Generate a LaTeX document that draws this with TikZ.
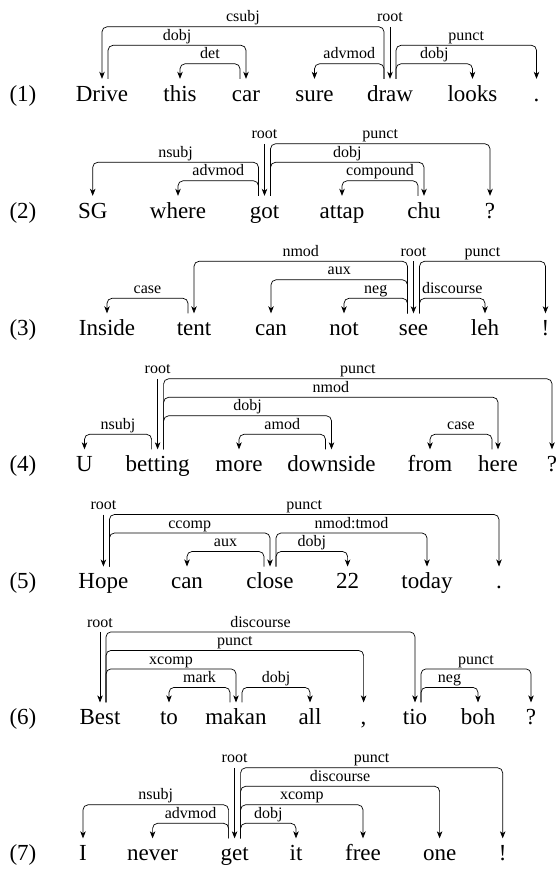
\documentclass[tikz,border=0pt]{standalone}
\usepackage{fontspec}
\setmainfont{Liberation Serif}
\usepackage{tikz}
\usetikzlibrary{arrows.meta}

\begin{document}
\begin{tikzpicture}
  [
    x=1pt, y=-1pt,
    Word/.style={font=\fontsize{23}{27}\selectfont, anchor=base, inner xsep=0pt, inner ysep=6pt, text height=16pt, text depth=5pt},
    Arc/.style={draw, line width=0.7pt, rounded corners=5pt, -{Stealth[length=7pt, width=5.5pt, inset=2pt]}},
    Tag/.style={font=\fontsize{16}{18}\selectfont, above, inner xsep=0pt, inner ysep=1pt, text height=11pt, text depth=3.5pt},
    Lbl/.style={Tag, pos=0.25}
  ]
  \useasboundingbox (0,0) rectangle (559,870);

  % Nodes (x, baseline)
  % (1)
  \node[Word] (n1) at (23,101) {(1)};
  \node[Word] (a1) at (102,101) {Drive};
  \node[Word] (a2) at (180,101) {this};
  \node[Word] (a3) at (246,101) {car};
  \node[Word] (a4) at (314.5,101) {sure};
  \node[Word] (a5) at (390,101) {draw};
  \node[Word] (a6) at (472.5,101) {looks};
  \node[Word] (a7) at (536.5,101) {.};
  % (2)
  \node[Word] (n2) at (23,218) {(2)};
  \node[Word] (b1) at (92.7,218) {SG};
  \node[Word] (b2) at (178,218) {where};
  \node[Word] (b3) at (264.5,218) {got};
  \node[Word] (b4) at (342,218) {attap};
  \node[Word] (b5) at (424,218) {chu};
  \node[Word] (b6) at (490,218) {?};
  % (3)
  \node[Word] (n3) at (23,335.5) {(3)};
  \node[Word] (c1) at (107,335.5) {Inside};
  \node[Word] (c2) at (194,335.5) {tent};
  \node[Word] (c3) at (271,335.5) {can};
  \node[Word] (c4) at (344,335.5) {not};
  \node[Word] (c5) at (413.5,335.5) {see};
  \node[Word] (c6) at (485,335.5) {leh};
  \node[Word] (c7) at (545.5,335.5) {!};
  % (4)
  \node[Word] (n4) at (23,471.5) {(4)};
  \node[Word] (d1) at (84.5,471.5) {U};
  \node[Word] (d2) at (157.6,471.5) {betting};
  \node[Word] (d3) at (239,471.5) {more};
  \node[Word] (d4) at (331.5,471.5) {downside};
  \node[Word] (d5) at (430,471.5) {from};
  \node[Word] (d6) at (498,471.5) {here};
  \node[Word] (d7) at (552,471.5) {?};
  % (5)
  \node[Word] (n5) at (23,588.7) {(5)};
  \node[Word] (e1) at (103.4,588.7) {Hope};
  \node[Word] (e2) at (187,588.7) {can};
  \node[Word] (e3) at (270,588.7) {close};
  \node[Word] (e4) at (347.6,588.7) {22};
  \node[Word] (e5) at (427,588.7) {today};
  \node[Word] (e6) at (499,588.7) {.};
  % (6)
  \node[Word] (n6) at (23,724.6) {(6)};
  \node[Word] (f1) at (100,724.6) {Best};
  \node[Word] (f2) at (169,724.6) {to};
  \node[Word] (f3) at (236,724.6) {makan};
  \node[Word] (f4) at (310,724.6) {all};
  \node[Word] (f5) at (363.6,724.6) {,};
  \node[Word] (f6) at (415,724.6) {tio};
  \node[Word] (f7) at (478,724.6) {boh};
  \node[Word] (f8) at (531,724.6) {?};
  % (7)
  \node[Word] (n7) at (23,860.5) {(7)};
  \node[Word] (g1) at (83,860.5) {I};
  \node[Word] (g2) at (152.6,860.5) {never};
  \node[Word] (g3) at (234.6,860.5) {get};
  \node[Word] (g4) at (296,860.5) {it};
  \node[Word] (g5) at (363,860.5) {free};
  \node[Word] (g6) at (439.6,860.5) {one};
  \node[Word] (g7) at (502.7,860.5) {!};

  % Root ends
  \path (a5.north) ++(0,-52) coordinate (ra);
  \path (b3.north) ++(0,-52) coordinate (rb);
  \path (c5.north) ++(0,-52) coordinate (rc);
  \path (d2.north) ++(0,-70.5) coordinate (rd);
  \path (e1.north) ++(0,-52) coordinate (re);
  \path (f1.north) ++(0,-70.5) coordinate (rf);
  \path (g3.north) ++(0,-70.5) coordinate (rg);

  % Lines
  % (1) draw
  \draw[Arc] (ra) node[Tag] {root} -- (a5.north);
  \draw[Arc] ([xshift=-6pt]a5.north) -- ++(0,-52) -| node[Lbl] {csubj} (a1.north);
  \draw[Arc] ([xshift=6pt]a1.north) -- ++(0,-33.5) -| node[Lbl] {dobj} (a3.north);
  \draw[Arc] ([xshift=-6pt]a3.north) -- ++(0,-15) -| node[Lbl] {det} (a2.north);
  \draw[Arc] ([xshift=-6pt]a5.north) -- ++(0,-15) -| node[Lbl] {advmod} (a4.north);
  \draw[Arc] ([xshift=6pt]a5.north) -- ++(0,-15) -| node[Lbl] {dobj} (a6.north);
  \draw[Arc] ([xshift=6pt]a5.north) -- ++(0,-33.5) -| node[Lbl] {punct} (a7.north);
  % (2) got
  \draw[Arc] (rb) node[Tag] {root} -- (b3.north);
  \draw[Arc] ([xshift=-6pt]b3.north) -- ++(0,-33.5) -| node[Lbl] {nsubj} (b1.north);
  \draw[Arc] ([xshift=-6pt]b3.north) -- ++(0,-15) -| node[Lbl] {advmod} (b2.north);
  \draw[Arc] ([xshift=6pt]b3.north) -- ++(0,-33.5) -| node[Lbl] {dobj} (b5.north);
  \draw[Arc] ([xshift=-6pt]b5.north) -- ++(0,-15) -| node[Lbl] {compound} (b4.north);
  \draw[Arc] ([xshift=6pt]b3.north) -- ++(0,-52) -| node[Lbl] {punct} (b6.north);
  % (3) see
  \draw[Arc] (rc) node[Tag] {root} -- (c5.north);
  \draw[Arc] ([xshift=-6pt]c2.north) -- ++(0,-15) -| node[Lbl] {case} (c1.north);
  \draw[Arc] ([xshift=-6pt]c5.north) -- ++(0,-52) -| node[Lbl] {nmod} (c2.north);
  \draw[Arc] ([xshift=-6pt]c5.north) -- ++(0,-33.5) -| node[Lbl] {aux} (c3.north);
  \draw[Arc] ([xshift=-6pt]c5.north) -- ++(0,-15) -| node[Lbl] {neg} (c4.north);
  \draw[Arc] ([xshift=6pt]c5.north) -- ++(0,-15) -| node[Lbl] {discourse} (c6.north);
  \draw[Arc] ([xshift=6pt]c5.north) -- ++(0,-52) -| node[Lbl] {punct} (c7.north);
  % (4) betting
  \draw[Arc] (rd) node[Tag] {root} -- (d2.north);
  \draw[Arc] ([xshift=-6pt]d2.north) -- ++(0,-15) -| node[Lbl] {nsubj} (d1.north);
  \draw[Arc] ([xshift=6pt]d2.north) -- ++(0,-33.5) -| node[Lbl] {dobj} (d4.north);
  \draw[Arc] ([xshift=-6pt]d4.north) -- ++(0,-15) -| node[Lbl] {amod} (d3.north);
  \draw[Arc] ([xshift=6pt]d2.north) -- ++(0,-52) -| node[Lbl] {nmod} (d6.north);
  \draw[Arc] ([xshift=-6pt]d6.north) -- ++(0,-15) -| node[Lbl] {case} (d5.north);
  \draw[Arc] ([xshift=6pt]d2.north) -- ++(0,-70.5) -| node[Lbl] {punct} (d7.north);
  % (5) Hope
  \draw[Arc] (re) node[Tag] {root} -- (e1.north);
  \draw[Arc] ([xshift=6pt]e1.north) -- ++(0,-33.5) -| node[Lbl] {ccomp} (e3.north);
  \draw[Arc] ([xshift=-6pt]e3.north) -- ++(0,-15) -| node[Lbl] {aux} (e2.north);
  \draw[Arc] ([xshift=6pt]e3.north) -- ++(0,-15) -| node[Lbl] {dobj} (e4.north);
  \draw[Arc] ([xshift=6pt]e3.north) -- ++(0,-33.5) -| node[Lbl] {nmod:tmod} (e5.north);
  \draw[Arc] ([xshift=6pt]e1.north) -- ++(0,-52) -| node[Lbl] {punct} (e6.north);
  % (6) Best
  \draw[Arc] (rf) node[Tag] {root} -- (f1.north);
  \draw[Arc] ([xshift=6pt]f1.north) -- ++(0,-70.5) -| node[Lbl] {discourse} (f6.north);
  \draw[Arc] ([xshift=6pt]f1.north) -- ++(0,-52) -| node[Lbl] {punct} (f5.north);
  \draw[Arc] ([xshift=6pt]f1.north) -- ++(0,-33.5) -| node[Lbl] {xcomp} (f3.north);
  \draw[Arc] ([xshift=-6pt]f3.north) -- ++(0,-15) -| node[Lbl] {mark} (f2.north);
  \draw[Arc] ([xshift=6pt]f3.north) -- ++(0,-15) -| node[Lbl] {dobj} (f4.north);
  \draw[Arc] ([xshift=6pt]f6.north) -- ++(0,-33.5) -| node[Lbl] {punct} (f8.north);
  \draw[Arc] ([xshift=6pt]f6.north) -- ++(0,-15) -| node[Lbl] {neg} (f7.north);
  % (7) get
  \draw[Arc] (rg) node[Tag] {root} -- (g3.north);
  \draw[Arc] ([xshift=-6pt]g3.north) -- ++(0,-33.5) -| node[Lbl] {nsubj} (g1.north);
  \draw[Arc] ([xshift=-6pt]g3.north) -- ++(0,-15) -| node[Lbl] {advmod} (g2.north);
  \draw[Arc] ([xshift=6pt]g3.north) -- ++(0,-15) -| node[Lbl] {dobj} (g4.north);
  \draw[Arc] ([xshift=6pt]g3.north) -- ++(0,-33.5) -| node[Lbl] {xcomp} (g5.north);
  \draw[Arc] ([xshift=6pt]g3.north) -- ++(0,-52) -| node[Lbl] {discourse} (g6.north);
  \draw[Arc] ([xshift=6pt]g3.north) -- ++(0,-70.5) -| node[Lbl] {punct} (g7.north);

\end{tikzpicture}
\end{document}
